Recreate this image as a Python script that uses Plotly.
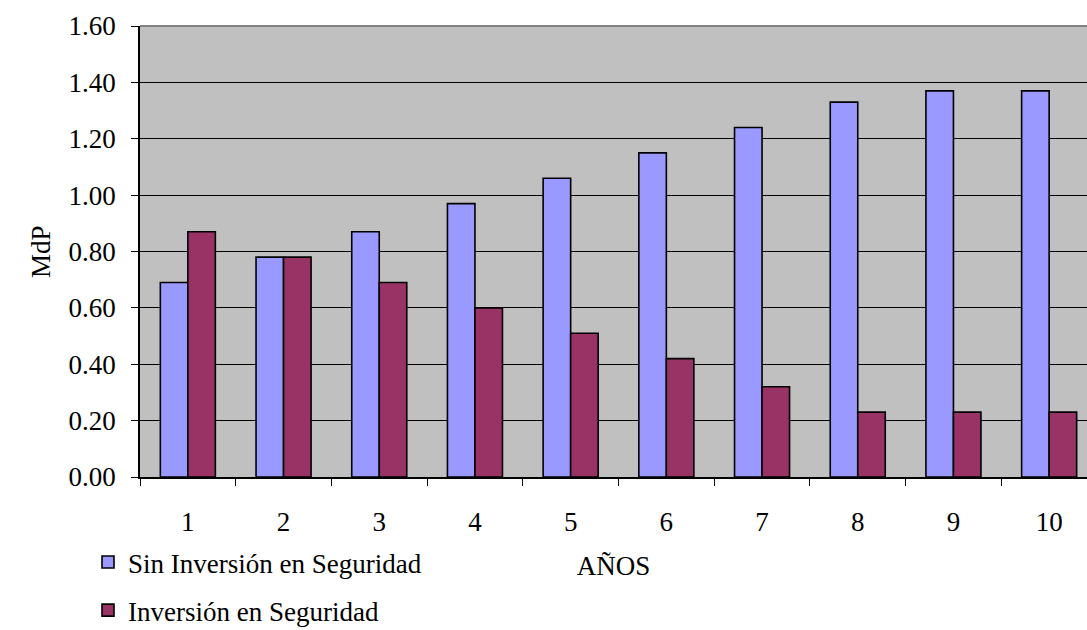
import plotly.graph_objects as go

# Años del horizonte de evaluación
anios = ["1", "2", "3", "4", "5", "6", "7", "8", "9", "10"]

# Costo anual (MdP) por escenario
sin_inversion = [0.69, 0.78, 0.87, 0.97, 1.06, 1.15, 1.24, 1.33, 1.37, 1.37]
con_inversion = [0.87, 0.78, 0.69, 0.60, 0.51, 0.42, 0.32, 0.23, 0.23, 0.23]

serie_nombres = ["Sin Inversión en Seguridad", "Inversión en Seguridad"]
y_ticks = [0.0, 0.2, 0.4, 0.6, 0.8, 1.0, 1.2, 1.4, 1.6]

FONT = "Liberation Serif"
FS = 27

fig = go.Figure()
fig.add_trace(go.Bar(
    x=anios, y=sin_inversion, name=serie_nombres[0], legendgroup="a",
    marker=dict(color="#9999FF", line=dict(color="#000000", width=1.6)),
))
fig.add_trace(go.Bar(
    x=anios, y=con_inversion, name=serie_nombres[1], legendgroup="b",
    marker=dict(color="#993366", line=dict(color="#000000", width=1.6)),
))

fig.update_layout(
    width=1087, height=630,
    margin=dict(l=140, r=0, t=26, b=153, autoexpand=False),
    paper_bgcolor="#FFFFFF",
    plot_bgcolor="#C0C0C0",
    font=dict(family=FONT, size=FS, color="#000000"),
    barmode="group", bargap=0.425, bargroupgap=0.0,
    showlegend=True,
    legend=dict(
        xref="container", yref="container",
        x=88 / 1087, y=1 - 538 / 630, xanchor="left", yanchor="top",
        orientation="v", traceorder="grouped", tracegroupgap=10,
        bgcolor="rgba(0,0,0,0)", font=dict(family=FONT, size=FS),
        itemclick=False, itemdoubleclick=False,
    ),
)

fig.update_xaxes(
    type="category", categoryorder="array", categoryarray=anios,
    range=[-0.5, -0.5 + 947 / 95.7],
    showgrid=False, zeroline=False,
    showline=True, linecolor="#000000", linewidth=1.5,
    ticks="outside", tickson="boundaries", ticklen=7, tickcolor="#000000", tickwidth=1,
    ticklabelstandoff=20,
    title=dict(text="AÑOS", standoff=20, font=dict(family=FONT, size=FS)),
)

fig.update_yaxes(
    range=[0, 1.6], tickvals=y_ticks, tickformat=".2f",
    showgrid=True, gridcolor="#000000", gridwidth=1,
    zeroline=False,
    showline=True, linecolor="#000000", linewidth=1.5,
    ticks="outside", ticklen=7, tickcolor="#000000", tickwidth=1,
    ticklabelstandoff=10,
)

# Título del eje vertical
fig.add_annotation(text="MdP", textangle=-90, xref="paper", yref="paper",
                   x=-(140 - 41) / 947, y=(477 - 252) / 451,
                   xanchor="center", yanchor="middle", showarrow=False,
                   font=dict(family=FONT, size=FS))

# Borde gris del área de trazado (lado superior)
fig.add_shape(type="line", xref="paper", yref="paper", x0=0, x1=1, y0=1, y1=1,
              line=dict(color="#808080", width=2), layer="above")

fig.write_html("out.html")
